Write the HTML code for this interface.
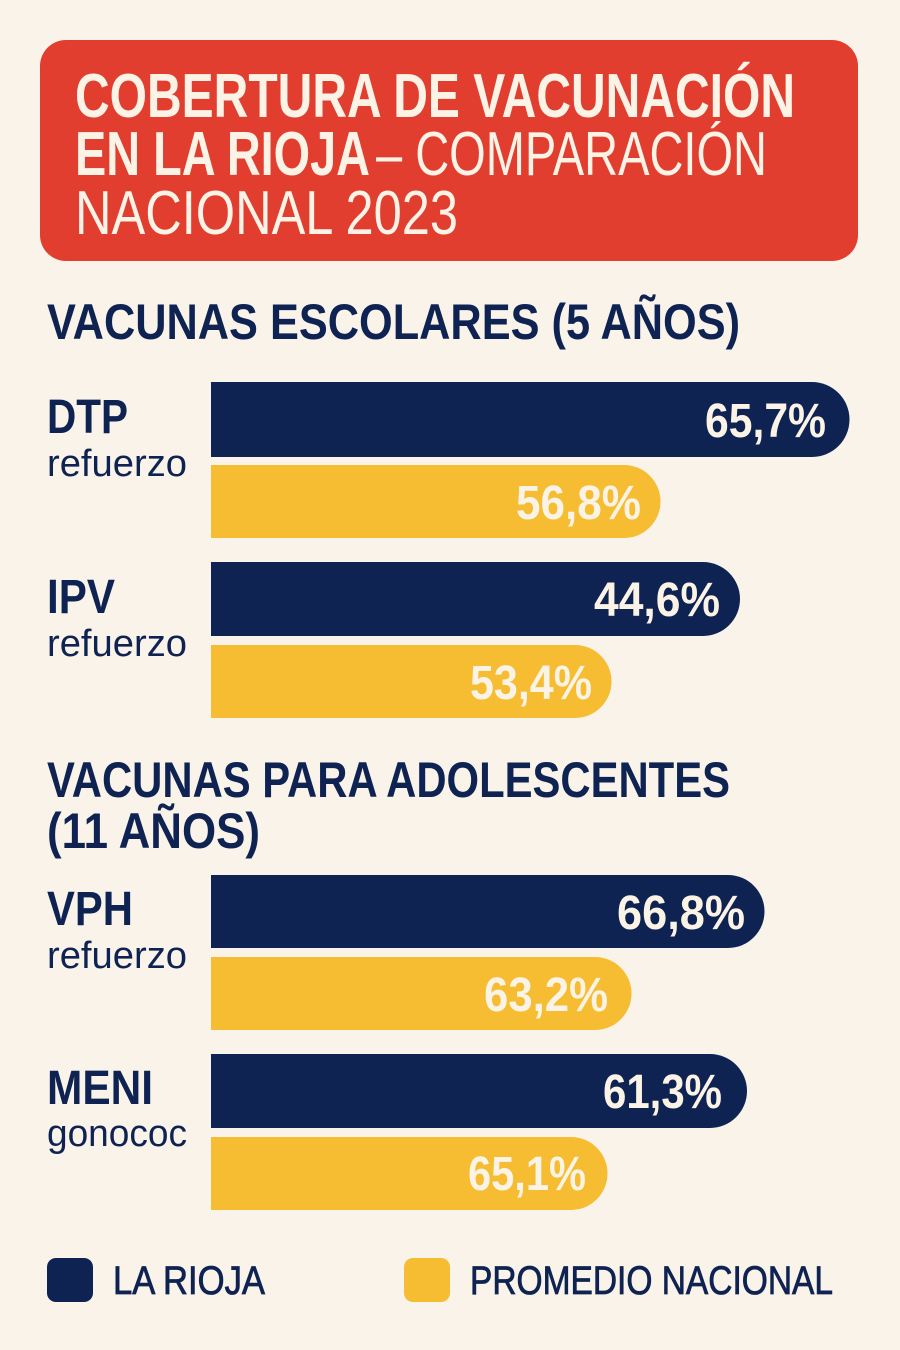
<!DOCTYPE html>
<html><head><meta charset="utf-8"><style>
html,body{margin:0;padding:0;background:#f9f3ea;}
svg{display:block}
text{font-family:"Liberation Sans Narrow","Liberation Sans",sans-serif;}
</style></head><body>
<svg width="900" height="1350" viewBox="0 0 900 1350" xmlns="http://www.w3.org/2000/svg">
<rect width="900" height="1350" fill="#f9f3ea"/>
<rect x="40" y="40" width="818" height="221" rx="26" fill="#e23e30"/>
<g fill="#fbf3e6">
<text x="75" y="117" font-size="62" font-weight="bold" textLength="720" lengthAdjust="spacingAndGlyphs">COBERTURA DE VACUNACIÓN</text>
<text x="75" y="175" font-size="62" font-weight="bold" textLength="295" lengthAdjust="spacingAndGlyphs">EN LA RIOJA</text>
<text x="376" y="175" font-size="62" textLength="391" lengthAdjust="spacingAndGlyphs">– COMPARACIÓN</text>
<text x="75" y="234" font-size="62" textLength="383" lengthAdjust="spacingAndGlyphs">NACIONAL 2023</text>
</g>
<g fill="#0f2352" font-weight="bold">
<text x="47" y="339" font-size="50" textLength="693" lengthAdjust="spacingAndGlyphs">VACUNAS ESCOLARES (5 AÑOS)</text>
<text x="47" y="797" font-size="50" textLength="683" lengthAdjust="spacingAndGlyphs">VACUNAS PARA ADOLESCENTES</text>
<text x="47" y="848" font-size="50" textLength="213" lengthAdjust="spacingAndGlyphs">(11 AÑOS)</text>
<text x="47" y="433" font-size="48" textLength="81" lengthAdjust="spacingAndGlyphs">DTP</text>
<text x="47" y="613" font-size="48" textLength="68" lengthAdjust="spacingAndGlyphs">IPV</text>
<text x="47" y="925" font-size="48" textLength="86" lengthAdjust="spacingAndGlyphs">VPH</text>
<text x="47" y="1104" font-size="48" textLength="106" lengthAdjust="spacingAndGlyphs">MENI</text>
</g>
<g fill="#0f2352">
<text x="47" y="476" font-size="38" textLength="140" lengthAdjust="spacingAndGlyphs">refuerzo</text>
<text x="47" y="656" font-size="38" textLength="140" lengthAdjust="spacingAndGlyphs">refuerzo</text>
<text x="47" y="968" font-size="38" textLength="140" lengthAdjust="spacingAndGlyphs">refuerzo</text>
<text x="47" y="1146" font-size="38" textLength="140" lengthAdjust="spacingAndGlyphs">gonococ</text>
</g>
<g>
<path d="M211 382 H812 A37.5 37.5 0 0 1 812 457 H211 Z" fill="#0f2352"/>
<path d="M211 465 H624 A36.5 36.5 0 0 1 624 538 H211 Z" fill="#f6bd33"/>
<path d="M211 562 H703 A37 37 0 0 1 703 636 H211 Z" fill="#0f2352"/>
<path d="M211 645 H575 A36.5 36.5 0 0 1 575 718 H211 Z" fill="#f6bd33"/>
<path d="M211 875 H728 A36.5 36.5 0 0 1 728 948 H211 Z" fill="#0f2352"/>
<path d="M211 957 H595 A36.5 36.5 0 0 1 595 1030 H211 Z" fill="#f6bd33"/>
<path d="M211 1054 H710 A37 37 0 0 1 710 1128 H211 Z" fill="#0f2352"/>
<path d="M211 1137 H571 A36.5 36.5 0 0 1 571 1210 H211 Z" fill="#f6bd33"/>
</g>
<g fill="#fbf3e6" font-weight="bold" font-size="48">
<text x="705" y="437" textLength="121" lengthAdjust="spacingAndGlyphs">65,7%</text>
<text x="516" y="519" textLength="125" lengthAdjust="spacingAndGlyphs">56,8%</text>
<text x="594" y="616" textLength="126" lengthAdjust="spacingAndGlyphs">44,6%</text>
<text x="470" y="699" textLength="122" lengthAdjust="spacingAndGlyphs">53,4%</text>
<text x="617" y="929" textLength="128" lengthAdjust="spacingAndGlyphs">66,8%</text>
<text x="484" y="1011" textLength="124" lengthAdjust="spacingAndGlyphs">63,2%</text>
<text x="603" y="1108" textLength="119" lengthAdjust="spacingAndGlyphs">61,3%</text>
<text x="468" y="1190" textLength="118" lengthAdjust="spacingAndGlyphs">65,1%</text>
</g>
<rect x="47" y="1258" width="46" height="44" rx="9" fill="#0f2352"/>
<rect x="404" y="1258" width="46" height="44" rx="9" fill="#f6bd33"/>
<g fill="#0f2352" font-size="40" stroke="#0f2352" stroke-width="0.8">
<text x="113" y="1294" textLength="152" lengthAdjust="spacingAndGlyphs">LA RIOJA</text>
<text x="470" y="1294" textLength="363" lengthAdjust="spacingAndGlyphs">PROMEDIO NACIONAL</text>
</g>
</svg>
</body></html>
